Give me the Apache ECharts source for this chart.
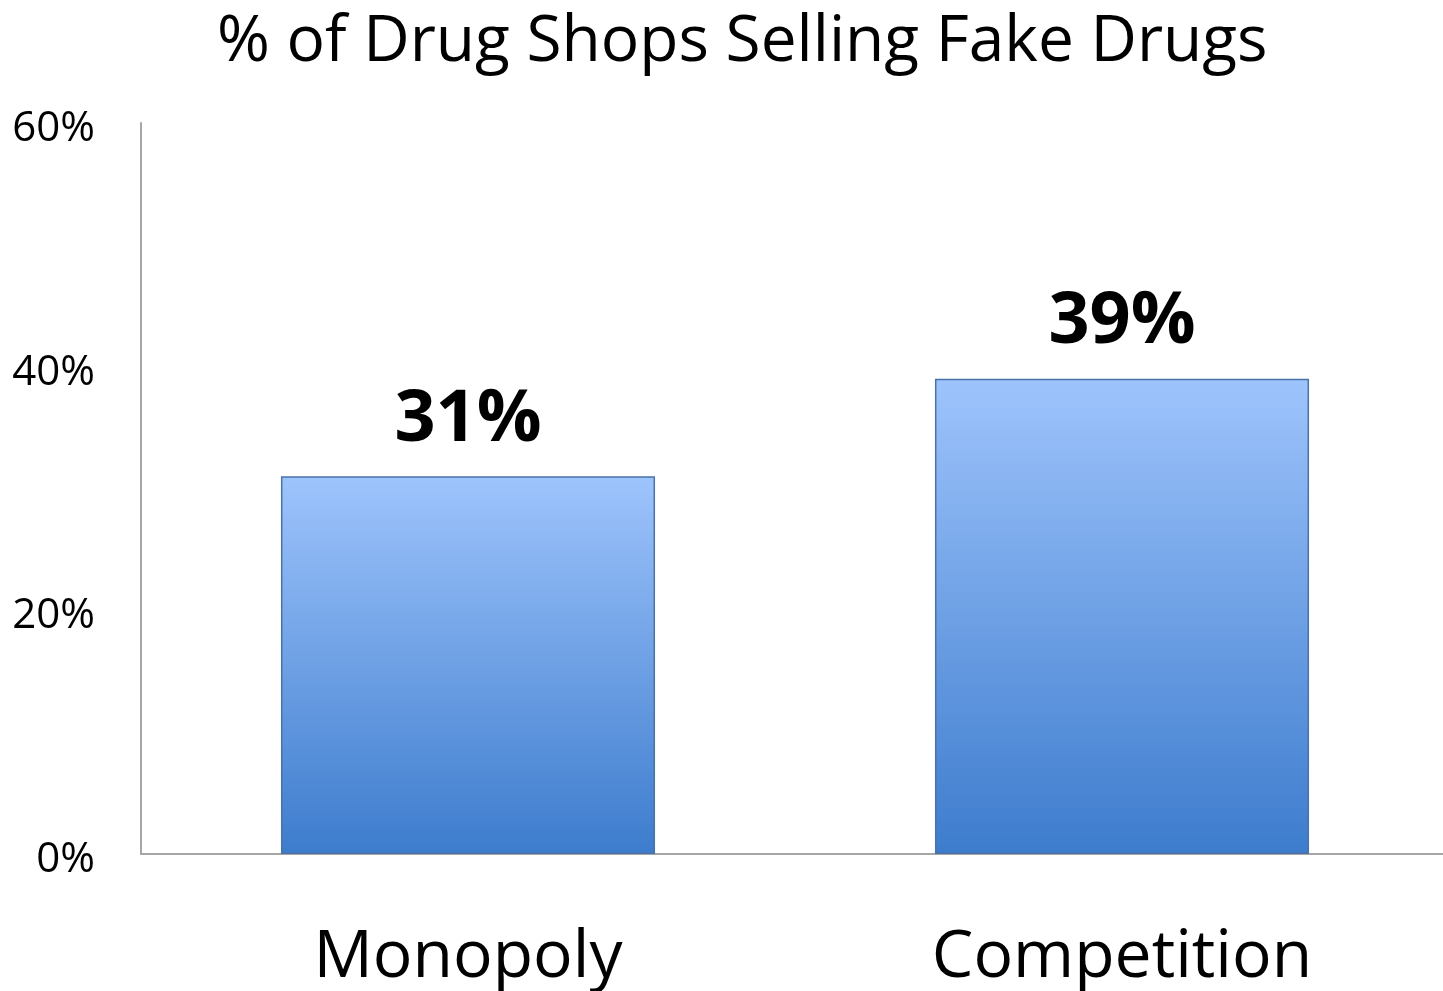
<!DOCTYPE html>
<html><head><meta charset="utf-8">
<script src="https://cdn.jsdelivr.net/npm/echarts@6/dist/echarts.min.js"></script>
<style>html,body{margin:0;padding:0;background:#fff;overflow:hidden}#c{width:1449px;height:991px}</style>
</head><body><div id="c"></div>
<script>
const categories = ['Monopoly', 'Competition'];
const values = [31, 39];
const yTicks = [0, 20, 40, 60];
const title = '% of Drug Shops Selling Fake Drugs';

const chart = echarts.init(document.getElementById('c'), null, {renderer: 'canvas'});
const font = '"Open Sans", "Noto Sans", sans-serif';
chart.setOption({
  animation: false,
  backgroundColor: '#fff',
  title: {
    text: title, left: 212, top: 6,
    textStyle: {fontFamily: font, fontSize: 64, fontWeight: 'normal', color: '#000'}
  },
  grid: {left: 141, right: 0, top: 123, bottom: 136, containLabel: false},
  xAxis: {
    type: 'category', data: categories,
    axisLine: {lineStyle: {color: '#a6a6a6', width: 2}},
    axisTick: {show: false},
    axisLabel: {fontFamily: font, fontSize: 66, color: '#000', margin: 71}
  },
  yAxis: {
    type: 'value', min: yTicks[0], max: yTicks[yTicks.length - 1], interval: 20,
    axisLine: {show: true, lineStyle: {color: '#a6a6a6', width: 2}},
    axisTick: {show: false},
    splitLine: {show: false},
    axisLabel: {fontFamily: font, fontSize: 42, color: '#000', margin: 46,
      verticalAlign: 'top', lineHeight: 12,
      formatter: v => v + '%'}
  },
  series: [{
    type: 'bar', data: values, barWidth: '57.2%',
    itemStyle: {
      color: new echarts.graphic.LinearGradient(0, 0, 0, 1, [
        {offset: 0, color: '#9ec4fc'}, {offset: 1, color: '#3d7ccd'}
      ]),
      borderColor: '#4a72a6', borderWidth: 1.5
    },
    label: {show: true, position: 'top', distance: 20, formatter: p => p.value + '%',
      fontFamily: font, fontSize: 72, fontWeight: 'bold', color: '#000'}
  }]
});
</script></body></html>
